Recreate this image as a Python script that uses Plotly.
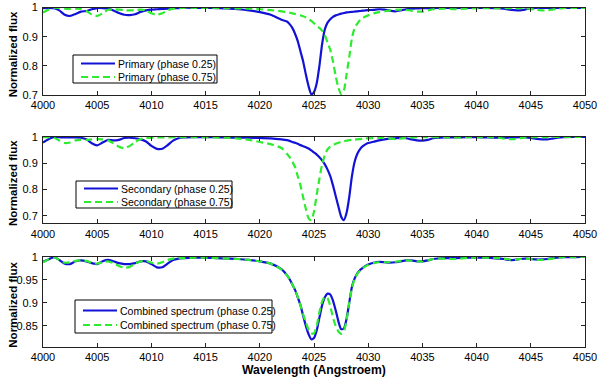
import plotly.graph_objects as go

# ---------------- data ----------------
wavelength = [
    4000, 4000.5, 4001, 4001.5, 4002, 4002.5, 4003, 4003.5, 4004, 4004.5,
    4005, 4005.5, 4006, 4006.5, 4007, 4007.5, 4008, 4008.5, 4009, 4009.5,
    4010, 4010.5, 4011, 4011.5, 4012, 4012.5, 4013,
    4014, 4015, 4016, 4017, 4018, 4019, 4020, 4021, 4022,
    4022.5, 4022.75, 4023, 4023.25, 4023.5, 4023.75, 4024, 4024.25, 4024.5, 4024.75,
    4025, 4025.25, 4025.5, 4025.75, 4026, 4026.25, 4026.5, 4026.75, 4027, 4027.25,
    4027.5, 4027.75, 4028, 4028.25, 4028.5, 4028.75, 4029, 4029.25, 4029.5, 4029.75, 4030,
    4030.5, 4031, 4031.5, 4032, 4032.5, 4033, 4033.5, 4034, 4034.5, 4035, 4035.5, 4036,
    4037, 4038, 4039, 4040, 4041, 4042, 4042.5, 4043, 4043.5, 4044, 4044.5,
    4045, 4045.5, 4046, 4046.5, 4047, 4047.5, 4048, 4049, 4050,
]

primary_025 = [
    0.998, 0.999, 0.998, 0.990, 0.975, 0.971, 0.978, 0.986, 0.988, 0.994,
    0.998, 0.998, 0.996, 0.990, 0.981, 0.975, 0.974, 0.977, 0.985, 0.990,
    0.993, 0.994, 0.995, 0.996, 0.998, 0.998, 0.999,
    0.999, 0.999, 0.998, 0.997, 0.994, 0.990, 0.984, 0.975, 0.958,
    0.952, 0.943, 0.930, 0.910, 0.885, 0.850, 0.815, 0.770, 0.730, 0.703,
    0.710, 0.740, 0.800, 0.875, 0.925, 0.948, 0.960, 0.968, 0.973, 0.976,
    0.979, 0.981, 0.983, 0.984, 0.985, 0.986, 0.987, 0.988, 0.989, 0.990, 0.991,
    0.992, 0.994, 0.993, 0.989, 0.987, 0.990, 0.994, 0.996, 0.997, 0.998, 0.998, 0.998,
    0.999, 0.999, 0.999, 0.999, 0.999, 0.998, 0.996, 0.993, 0.991, 0.990, 0.993,
    0.997, 0.999, 0.999, 0.999, 0.999, 0.999, 0.999, 0.999, 0.999,
]
primary_075 = [
    0.983, 0.992, 0.999, 0.998, 0.996, 0.995, 0.996, 0.995, 0.988, 0.976,
    0.971, 0.980, 0.992, 0.994, 0.993, 0.991, 0.990, 0.991, 0.993, 0.990,
    0.980, 0.975, 0.980, 0.990, 0.996, 0.998, 0.999,
    0.999, 0.999, 0.999, 0.998, 0.997, 0.996, 0.994, 0.991, 0.987,
    0.984, 0.982, 0.980, 0.978, 0.976, 0.973, 0.970, 0.966, 0.960, 0.954,
    0.946, 0.937, 0.930, 0.920, 0.905, 0.880, 0.855, 0.815, 0.765, 0.725,
    0.703, 0.715, 0.770, 0.830, 0.895, 0.930, 0.945, 0.957, 0.964, 0.969, 0.973,
    0.980, 0.984, 0.987, 0.990, 0.992, 0.993, 0.992, 0.989, 0.986, 0.986, 0.990, 0.994,
    0.996, 0.994, 0.996, 0.998, 0.998, 0.998, 0.998, 0.998, 0.998, 0.998, 0.997,
    0.995, 0.992, 0.990, 0.990, 0.993, 0.996, 0.998, 0.999, 0.999,
]
secondary_025 = [
    0.978, 0.990, 0.999, 0.998, 0.997, 0.997, 0.997, 0.996, 0.990, 0.975,
    0.967, 0.978, 0.988, 0.986, 0.988, 0.995, 0.996, 0.994, 0.990, 0.982,
    0.965, 0.954, 0.954, 0.968, 0.985, 0.994, 0.997,
    0.998, 0.998, 0.998, 0.997, 0.996, 0.996, 0.995, 0.994, 0.990,
    0.987, 0.984, 0.980, 0.977, 0.973, 0.968, 0.964, 0.960, 0.955, 0.948,
    0.940, 0.932, 0.922, 0.910, 0.895, 0.875, 0.850, 0.815, 0.775, 0.735,
    0.697, 0.683, 0.710, 0.770, 0.850, 0.905, 0.935, 0.953, 0.964, 0.971, 0.976,
    0.981, 0.986, 0.990, 0.993, 0.994, 0.995, 0.994, 0.990, 0.986, 0.985, 0.988, 0.994,
    0.997, 0.997, 0.998, 0.998, 0.997, 0.996, 0.996, 0.996, 0.997, 0.998, 0.997,
    0.995, 0.992, 0.990, 0.990, 0.993, 0.996, 0.998, 0.999, 0.999,
]
secondary_075 = [
    0.998, 0.998, 0.996, 0.986, 0.976, 0.978, 0.986, 0.988, 0.988, 0.990,
    0.991, 0.990, 0.986, 0.975, 0.962, 0.956, 0.965, 0.980, 0.991, 0.995,
    0.996, 0.997, 0.997, 0.997, 0.998, 0.998, 0.998,
    0.998, 0.998, 0.997, 0.996, 0.993, 0.988, 0.980, 0.972, 0.957,
    0.935, 0.922, 0.905, 0.885, 0.850, 0.815, 0.770, 0.725, 0.690, 0.683,
    0.715, 0.780, 0.840, 0.895, 0.930, 0.952, 0.962, 0.968, 0.973, 0.977,
    0.980, 0.983, 0.985, 0.987, 0.988, 0.989, 0.990, 0.991, 0.992, 0.993, 0.994,
    0.995, 0.995, 0.995, 0.993, 0.991, 0.993, 0.996, 0.997, 0.998, 0.998, 0.998, 0.998,
    0.998, 0.997, 0.998, 0.998, 0.998, 0.996, 0.993, 0.991, 0.991, 0.994, 0.997,
    0.998, 0.998, 0.998, 0.998, 0.999, 0.999, 0.999, 0.999, 0.999,
]
combined_025 = [
    0.989, 0.994, 0.999, 0.993, 0.985, 0.984, 0.990, 0.992, 0.990, 0.986,
    0.984, 0.990, 0.993, 0.990, 0.986, 0.984, 0.984, 0.986, 0.990, 0.990,
    0.984, 0.977, 0.977, 0.985, 0.993, 0.996, 0.997,
    0.998, 0.998, 0.997, 0.996, 0.995, 0.993, 0.990, 0.985, 0.973,
    0.960, 0.951, 0.940, 0.928, 0.912, 0.895, 0.872, 0.850, 0.832, 0.821,
    0.824, 0.840, 0.868, 0.895, 0.912, 0.920, 0.918, 0.905, 0.884, 0.860,
    0.843, 0.844, 0.865, 0.900, 0.935, 0.953, 0.964, 0.971, 0.976, 0.980, 0.983,
    0.987, 0.989, 0.988, 0.987, 0.988, 0.990, 0.992, 0.992, 0.990, 0.990, 0.992, 0.995,
    0.997, 0.997, 0.998, 0.998, 0.998, 0.996, 0.995, 0.993, 0.993, 0.995, 0.996,
    0.995, 0.994, 0.994, 0.995, 0.997, 0.998, 0.999, 0.999, 1.000,
]
combined_075 = [
    0.988, 0.994, 0.999, 0.993, 0.987, 0.988, 0.991, 0.992, 0.991, 0.987,
    0.985, 0.988, 0.990, 0.986, 0.980, 0.976, 0.978, 0.985, 0.990, 0.991,
    0.987, 0.985, 0.988, 0.993, 0.996, 0.997, 0.997,
    0.998, 0.998, 0.997, 0.996, 0.995, 0.993, 0.990, 0.985, 0.972,
    0.960, 0.951, 0.940, 0.928, 0.913, 0.895, 0.875, 0.858, 0.842, 0.834,
    0.834, 0.850, 0.880, 0.903, 0.913, 0.910, 0.893, 0.868, 0.850, 0.838,
    0.833, 0.838, 0.862, 0.900, 0.932, 0.952, 0.963, 0.970, 0.975, 0.979, 0.982,
    0.986, 0.988, 0.988, 0.988, 0.989, 0.991, 0.992, 0.991, 0.990, 0.990, 0.992, 0.995,
    0.996, 0.995, 0.997, 0.998, 0.998, 0.997, 0.996, 0.994, 0.993, 0.995, 0.996,
    0.995, 0.993, 0.993, 0.994, 0.996, 0.998, 0.999, 0.999, 1.000,
]

panel_names = [
    ("Primary (phase 0.25)", "Primary (phase 0.75)"),
    ("Secondary (phase 0.25)", "Secondary (phase 0.75)"),
    ("Combined spectrum (phase 0.25)", "Combined spectrum (phase 0.75)"),
]
panel_series = [
    (primary_025, primary_075),
    (secondary_025, secondary_075),
    (combined_025, combined_075),
]
y_ranges = [[0.7, 1.0], [0.671, 1.0], [0.805, 1.0]]
y_dticks = [0.1, 0.1, 0.05]

# ---------------- layout geometry (pixels) ----------------
W, H = 600, 377
x_left, x_right = 43, 585
panel_px = [(7.5, 95.0), (136.7, 223.3), (256.7, 346.7)]  # top, bottom
# legend boxes: left, top, right, bottom, row1 y, row2 y
legend_box = [(73, 55, 217, 83, 63.5, 77.0),
              (76, 181, 232, 208, 188.5, 202.0),
              (75, 300, 272, 333, 310.5, 325.0)]

BLUE = "rgb(18,18,215)"
GREEN = "rgb(45,235,45)"
FONT = "Liberation Sans, Arial, Helvetica, sans-serif"
AXC = "#222222"


def px(x):
    return x / W


def py(y):
    return 1 - y / H


fig = go.Figure()
annotations = []
shapes = []
layout = dict(
    width=W, height=H, margin=dict(l=0, r=0, t=0, b=0, autoexpand=False),
    paper_bgcolor="white", plot_bgcolor="white",
    font=dict(family=FONT, size=11, color="black"),
    showlegend=False,
)

for i in range(3):
    sfx = "" if i == 0 else str(i + 1)
    s_a, s_b = panel_series[i]
    n_a, n_b = panel_names[i]
    fig.add_trace(go.Scatter(
        x=wavelength, y=s_a, mode="lines", name=n_a,
        line=dict(color=BLUE, width=2.2, shape="spline", smoothing=0.6),
        xaxis="x" + sfx, yaxis="y" + sfx))
    fig.add_trace(go.Scatter(
        x=wavelength, y=s_b, mode="lines", name=n_b,
        line=dict(color=GREEN, width=2.2, shape="spline", smoothing=0.6, dash="7px,4px"),
        xaxis="x" + sfx, yaxis="y" + sfx))

    top, bot = panel_px[i]
    common = dict(showline=True, linecolor=AXC, linewidth=1, mirror="ticks",
                  ticks="inside", ticklen=4, tickcolor=AXC, tickwidth=1,
                  showgrid=False, zeroline=False,
                  tickfont=dict(family=FONT, size=11, color="black"))
    layout["xaxis" + sfx] = dict(
        domain=[px(x_left), px(x_right)], range=[4000, 4050],
        tick0=4000, dtick=5, anchor="y" + sfx, **common)
    layout["yaxis" + sfx] = dict(
        domain=[py(bot), py(top)], range=y_ranges[i], tick0=0, dtick=y_dticks[i],
        anchor="x" + sfx, ticklabelstandoff=2, **common)

    # y-axis title
    annotations.append(dict(
        text="<b>Normalized flux</b>", textangle=-90,
        x=px(13), y=py((top + bot) / 2 + 3), xref="paper", yref="paper",
        showarrow=False, font=dict(family=FONT, size=11.5, color="black"),
        xanchor="center", yanchor="middle"))

    # legend box (drawn in paper coordinates)
    l, t, r, b, r1, r2 = legend_box[i]
    shapes.append(dict(type="rect", xref="paper", yref="paper",
                       x0=px(l), x1=px(r), y0=py(b), y1=py(t),
                       line=dict(color="black", width=1), fillcolor="white",
                       layer="above"))
    for (ry, col, dash, name) in [(r1, BLUE, "solid", n_a), (r2, GREEN, "7px,4px", n_b)]:
        shapes.append(dict(type="line", xref="paper", yref="paper",
                           x0=px(l + 8), x1=px(l + 42), y0=py(ry), y1=py(ry),
                           line=dict(color=col, width=2.2, dash=dash), layer="above"))
        annotations.append(dict(
            text=name, x=px(l + 43), y=py(ry), xref="paper", yref="paper",
            showarrow=False, xanchor="left", yanchor="middle",
            font=dict(family=FONT, size=10.5, color="black")))

annotations.append(dict(
    text="<b>Wavelength (Angstroem)</b>",
    x=px(314), y=py(370), xref="paper", yref="paper",
    showarrow=False, font=dict(family=FONT, size=12.2, color="black"),
    xanchor="center", yanchor="middle"))

layout["annotations"] = annotations
layout["shapes"] = shapes
fig.update_layout(**layout)
fig.write_html("out.html",
               config={"displayModeBar": False},
               post_script="document.body.style.margin='0';document.body.style.overflow='hidden';")
